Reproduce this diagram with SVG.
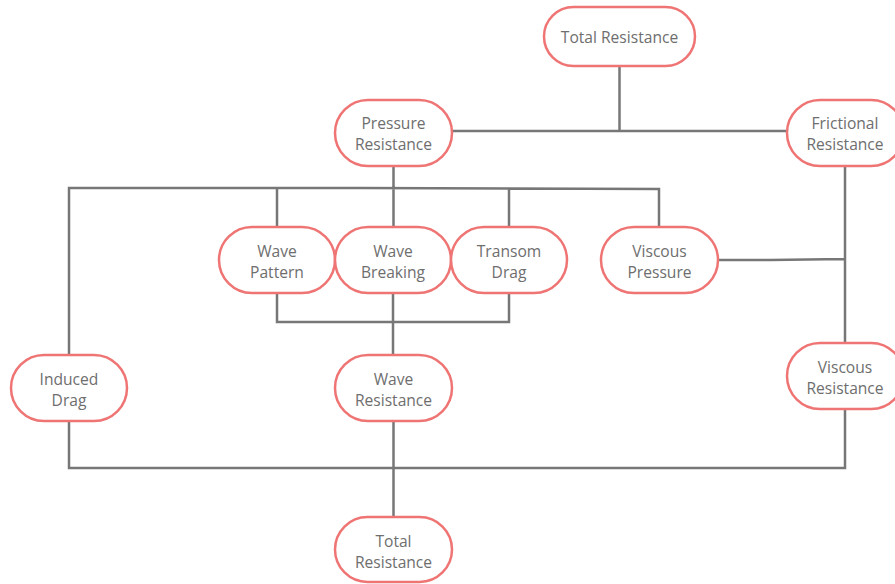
<svg xmlns="http://www.w3.org/2000/svg" width="895" height="584" viewBox="0 0 895 584">
<style>
.n{fill:#fff;stroke:#ef7474;stroke-width:2.5}
.t{font-family:"Open Sans","Noto Sans","Liberation Sans",sans-serif;font-size:15.6px;fill:#6e6e6e;text-anchor:middle}
.c{fill:none;stroke:#777;stroke-width:2.5}
</style>
<rect width="895" height="584" fill="#fff"/>
<g id="connectors">
<path class="c" d="M619.5 66V131M452 131H787"/>
<path class="c" d="M393.5 166V189M69 355V188H360L659 189V227M277 189V227M393.5 189V227M509 189V227"/>
<path class="c" d="M277 293V322H509V293M393 293V355"/>
<path class="c" d="M845 166V343M718 260L770 260L845 259"/>
<path class="c" d="M69 421V468H845V409M393.5 421V517"/>
</g>
<g id="n-total-top"><rect class="n" x="544" y="7" width="151" height="59" rx="29.5"/><text class="t" x="619.5" y="43">Total Resistance</text></g>
<g id="n-pressure"><rect class="n" x="335" y="100" width="117" height="66" rx="33"/><text class="t" x="393.5" y="129">Pressure</text><text class="t" x="393.5" y="150">Resistance</text></g>
<g id="n-frictional"><rect class="n" x="787" y="100" width="117" height="66" rx="33"/><text class="t" x="845" y="129">Frictional</text><text class="t" x="845" y="150">Resistance</text></g>
<g id="n-wave-pattern"><rect class="n" x="219" y="227" width="116" height="66" rx="33"/><text class="t" x="277" y="257">Wave</text><text class="t" x="277" y="278">Pattern</text></g>
<g id="n-wave-breaking"><rect class="n" x="335" y="227" width="116" height="66" rx="33"/><text class="t" x="393" y="257">Wave</text><text class="t" x="393" y="278">Breaking</text></g>
<g id="n-transom"><rect class="n" x="451" y="227" width="116" height="66" rx="33"/><text class="t" x="509" y="257">Transom</text><text class="t" x="509" y="278">Drag</text></g>
<g id="n-viscous-pressure"><rect class="n" x="601" y="227" width="117" height="66" rx="33"/><text class="t" x="659.5" y="257">Viscous</text><text class="t" x="659.5" y="278">Pressure</text></g>
<g id="n-induced"><rect class="n" x="11" y="355" width="116" height="66" rx="33"/><text class="t" x="69" y="385">Induced</text><text class="t" x="69" y="406">Drag</text></g>
<g id="n-wave-resistance"><rect class="n" x="335" y="355" width="117" height="66" rx="33"/><text class="t" x="393.5" y="385">Wave</text><text class="t" x="393.5" y="406">Resistance</text></g>
<g id="n-viscous-resistance"><rect class="n" x="787" y="343" width="117" height="66" rx="33"/><text class="t" x="845" y="373">Viscous</text><text class="t" x="845" y="394">Resistance</text></g>
<g id="n-total-bottom"><rect class="n" x="335" y="517" width="117" height="65" rx="32.5"/><text class="t" x="393.5" y="547">Total</text><text class="t" x="393.5" y="568">Resistance</text></g>
</svg>
